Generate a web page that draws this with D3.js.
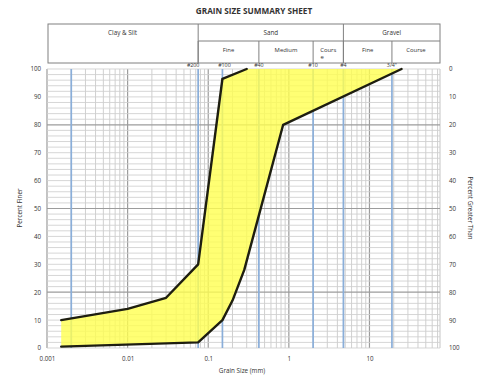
<!DOCTYPE html>
<html>
<head>
<meta charset="utf-8">
<script src="https://cdn.jsdelivr.net/npm/d3@7"></script>
<style>
  html, body { margin: 0; padding: 0; background: #fff; }
  svg { display: block; font-family: "Open Sans", "Liberation Sans", sans-serif; }
</style>
</head>
<body>
<svg id="chart" width="477" height="387"></svg>
<script>
// Grain size envelope: finer (upper) and coarser (lower) boundaries, [size mm, % finer]
const upperBound = [[0.0015, 10], [0.01, 14], [0.03, 18], [0.075, 30], [0.15, 96.5], [0.3, 100]];
const lowerBound = [[0.0015, 0.5], [0.075, 2], [0.15, 10], [0.2, 17], [0.28, 28], [0.85, 80], [25, 100]];

// Sieve openings (mm) and their labels along the top
const sieveSizes = [0.075, 0.15, 0.425, 2, 4.75, 19];
const sieveLabels = ["#200", "#100", "#40", "#10", "#4", "3/4\""];
const clayLimit = 0.002;

// Axis ticks
const xTickValues = [0.001, 0.01, 0.1, 1, 10];
const xTickLabels = ["0.001", "0.01", "0.1", "1", "10"];
const yTicks = [0, 10, 20, 30, 40, 50, 60, 70, 80, 90, 100];

// Soil classification header
const mainClasses = [
  { name: "Clay & Silt", from: 0.001, to: 0.075 },
  { name: "Sand", from: 0.075, to: 4.75 },
  { name: "Gravel", from: 4.75, to: 75 }
];
const subClasses = [
  { name: "Fine", from: 0.075, to: 0.425 },
  { name: "Medium", from: 0.425, to: 2 },
  { name: "Cours\ne", from: 2, to: 4.75 },
  { name: "Fine", from: 4.75, to: 19 },
  { name: "Course", from: 19, to: 75 }
];

const svg = d3.select("#chart");
const m = { left: 47, right: 440, top: 69, bottom: 348 };

const x = d3.scaleLog().domain([0.001, 75]).range([m.left, m.right]);
const y = d3.scaleLinear().domain([0, 100]).range([m.bottom, m.top]);
const yRight = d3.scaleLinear().domain([0, 100]).range([m.top, m.bottom]);

const textColor = "#333";
const font = "Open Sans, Liberation Sans, sans-serif";

// Title
svg.append("text")
  .attr("x", 254).attr("y", 14)
  .attr("text-anchor", "middle")
  .attr("font-size", 8.2).attr("font-weight", "bold")
  .attr("fill", "#333")
  .text("GRAIN SIZE SUMMARY SHEET");

// Header table
const hTop = 24, hMid = 41, hBot = 63;
const header = svg.append("g").attr("stroke", "#808080").attr("stroke-width", 1).attr("fill", "none");
header.append("rect").attr("x", x(0.001) + 1).attr("y", hTop).attr("width", x(75) - x(0.001) - 1).attr("height", hBot - hTop);
header.append("line").attr("x1", x(0.075)).attr("x2", x(75)).attr("y1", hMid).attr("y2", hMid);
mainClasses.slice(1).forEach(c => {
  header.append("line").attr("x1", x(c.from)).attr("x2", x(c.from)).attr("y1", hTop).attr("y2", hBot);
});
subClasses.forEach(c => {
  header.append("line").attr("x1", x(c.from)).attr("x2", x(c.from)).attr("y1", hMid).attr("y2", hBot);
});
mainClasses.forEach(c => {
  svg.append("text")
    .attr("x", (x(c.from) + x(c.to)) / 2).attr("y", 35)
    .attr("text-anchor", "middle").attr("font-size", 6.3).attr("fill", textColor)
    .text(c.name);
});
subClasses.forEach(c => {
  const lines = c.name.split("\n");
  const t = svg.append("text")
    .attr("x", (x(c.from) + x(c.to)) / 2).attr("y", 52)
    .attr("text-anchor", "middle").attr("font-size", 5.9).attr("fill", textColor);
  lines.forEach((s, i) => {
    t.append("tspan").attr("x", i === 0 ? (x(c.from) + x(c.to)) / 2 : x(c.from) + 9)
      .attr("dy", i === 0 ? 0 : 7).text(s);
  });
});

// Grid
const grid = svg.append("g");
const isDecade = d => Math.abs(Math.log10(d) - Math.round(Math.log10(d))) < 1e-9;
const minorX = [];
for (let e = -3; e <= 1; e++) {
  for (let k = 1; k <= 9; k++) {
    const v = k * Math.pow(10, e);
    if (v >= 0.001 && v <= 75) minorX.push(v);
  }
}
grid.selectAll("line.vx").data(minorX).join("line")
  .attr("x1", d => x(d)).attr("x2", d => x(d))
  .attr("y1", m.top).attr("y2", m.bottom)
  .attr("stroke", d => isDecade(d) ? "#9c9c9c" : "#cbcbcb")
  .attr("stroke-width", d => isDecade(d) ? 1.2 : 0.9);
grid.append("line").attr("x1", m.right).attr("x2", m.right).attr("y1", m.top).attr("y2", m.bottom)
  .attr("stroke", "#c0c0c0").attr("stroke-width", 0.9);

const minorY = d3.range(0, 101, 2);
grid.selectAll("line.hy").data(minorY).join("line")
  .attr("x1", m.left).attr("x2", m.right)
  .attr("y1", d => y(d)).attr("y2", d => y(d))
  .attr("stroke", d => [20, 50, 80].includes(d) ? "#9c9c9c" : "#cfcfcf")
  .attr("stroke-width", d => [20, 50, 80].includes(d) ? 1.2 : 0.85);

// Sieve lines
grid.selectAll("line.sieve").data([clayLimit, ...sieveSizes]).join("line")
  .attr("x1", d => x(d)).attr("x2", d => x(d))
  .attr("y1", m.top).attr("y2", m.bottom)
  .attr("stroke", "#8aaed9").attr("stroke-width", 1.7);

// Envelope fill
const polyPts = upperBound.concat(lowerBound.slice().reverse());
svg.append("path")
  .attr("d", d3.line().x(d => x(d[0])).y(d => y(d[1]))(polyPts) + "Z")
  .attr("fill", "#ffff50").attr("fill-opacity", 0.8).attr("stroke", "none");

// Boundary curves
const line = d3.line().x(d => x(d[0])).y(d => y(d[1]));
[upperBound, lowerBound].forEach(b => {
  svg.append("path").attr("d", line(b))
    .attr("fill", "none").attr("stroke", "#1e1e10").attr("stroke-width", 2.4)
    .attr("stroke-linejoin", "round").attr("stroke-linecap", "round");
});

// Sieve labels
sieveLabels.forEach((s, i) => {
  svg.append("text")
    .attr("x", x(sieveSizes[i]) + (i === 0 ? -5 : (i === 1 ? 2 : 0))).attr("y", 67)
    .attr("text-anchor", "middle").attr("font-size", 5.3).attr("fill", textColor)
    .text(s);
});

// Axes (labels only)
const xAxis = svg.append("g").attr("transform", `translate(0,${m.bottom})`)
  .call(d3.axisBottom(x).tickValues(xTickValues).tickFormat((d, i) => xTickLabels[i]).tickSize(0).tickPadding(9));
xAxis.select(".domain").remove();
xAxis.selectAll("text").attr("font-size", 6.2).attr("fill", textColor).attr("font-family", font);

const yAxis = svg.append("g").attr("transform", `translate(${m.left},0)`)
  .call(d3.axisLeft(y).tickValues(yTicks).tickSize(0).tickPadding(6));
yAxis.select(".domain").remove();
yAxis.selectAll("text").attr("font-size", 6.2).attr("fill", textColor).attr("font-family", font);

const yAxisR = svg.append("g").attr("transform", `translate(${m.right},0)`)
  .call(d3.axisRight(yRight).tickValues(yTicks).tickSize(0).tickPadding(9));
yAxisR.select(".domain").remove();
yAxisR.selectAll("text").attr("font-size", 6.2).attr("fill", textColor).attr("font-family", font);

// Axis titles
svg.append("text").attr("x", 242).attr("y", 373)
  .attr("text-anchor", "middle").attr("font-size", 6.3).attr("fill", textColor)
  .text("Grain Size (mm)");
svg.append("text")
  .attr("transform", "translate(22,208) rotate(-90)")
  .attr("text-anchor", "middle").attr("font-size", 6.3).attr("fill", textColor)
  .text("Percent Finer");
svg.append("text")
  .attr("transform", "translate(468,208) rotate(90)")
  .attr("text-anchor", "middle").attr("font-size", 6.3).attr("fill", textColor)
  .text("Percent Greater Than");
</script>
</body>
</html>
